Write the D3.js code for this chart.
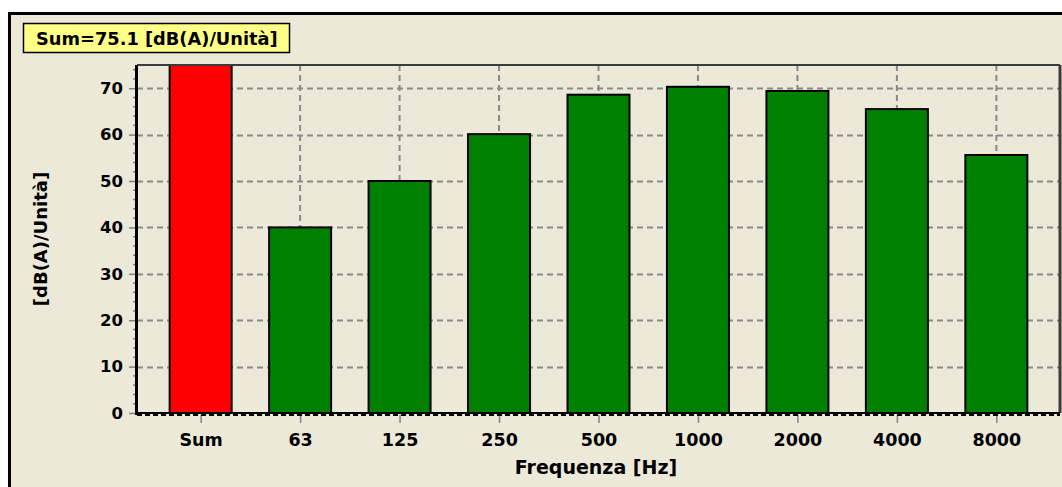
<!DOCTYPE html>
<html>
<head>
<meta charset="utf-8">
<script src="https://cdn.jsdelivr.net/npm/d3@7"></script>
<style>
  html, body { margin: 0; padding: 0; background: #ffffff; }
  svg { display: block; }
  text { font-family: "DejaVu Sans", Verdana, sans-serif; font-weight: bold; fill: #000; }
</style>
</head>
<body>
<svg id="chart" width="1062" height="487"></svg>
<script>
// ---- data ----
const categories = ["Sum", "63", "125", "250", "500", "1000", "2000", "4000", "8000"];
const values = [75.1, 40.0, 50.0, 60.1, 68.6, 70.3, 69.4, 65.5, 55.6];
const yTicks = [0, 10, 20, 30, 40, 50, 60, 70];
const titleText = "Sum=75.1 [dB(A)/Unità]";
const yLabel = "[dB(A)/Unità]";
const xLabel = "Frequenza [Hz]";

// ---- layout ----
const W = 1062, H = 487;
const plot = { left: 137, right: 1060, top: 65, bottom: 413 };
const FONT = "'DejaVu Sans', Verdana, sans-serif";
const svg = d3.select("#chart");

// outer panel
svg.append("rect").attr("x", 8).attr("y", 12).attr("width", W).attr("height", H)
  .attr("fill", "#ECE9D8");
svg.append("line").attr("x1", 8).attr("x2", W).attr("y1", 13.5).attr("y2", 13.5)
  .attr("stroke", "#000").attr("stroke-width", 3);
svg.append("line").attr("x1", 9.5).attr("x2", 9.5).attr("y1", 12).attr("y2", H)
  .attr("stroke", "#000").attr("stroke-width", 3);

// scales
const x = d3.scalePoint().domain(categories).range([plot.left, plot.right]).padding(0.64);
const y = d3.scaleLinear().domain([0, 75]).range([plot.bottom, plot.top]);
const barW = 62;

// clip
svg.append("clipPath").attr("id", "clip").append("rect")
  .attr("x", plot.left).attr("y", plot.top)
  .attr("width", plot.right - plot.left).attr("height", plot.bottom - plot.top);

const g = svg.append("g");

// gridlines
g.selectAll(".hgrid").data(yTicks.filter(d => d > 0)).join("line")
  .attr("x1", plot.left).attr("x2", plot.right)
  .attr("y1", d => Math.round(y(d)) + 0.5).attr("y2", d => Math.round(y(d)) + 0.5)
  .attr("stroke", "#8a8a8a").attr("stroke-width", 2).attr("stroke-dasharray", "6,4");
g.selectAll(".vgrid").data(categories).join("line")
  .attr("x1", d => x(d)).attr("x2", d => x(d))
  .attr("y1", plot.top).attr("y2", plot.bottom)
  .attr("stroke", "#8a8a8a").attr("stroke-width", 2).attr("stroke-dasharray", "6,4");

// bars
g.append("g").attr("clip-path", "url(#clip)")
  .selectAll("rect").data(categories.map((c, i) => ({ c, v: values[i] }))).join("rect")
  .attr("x", d => x(d.c) - barW / 2)
  .attr("y", d => y(d.v))
  .attr("width", barW)
  .attr("height", d => y(0) - y(d.v))
  .attr("fill", d => d.c === "Sum" ? "#FF0000" : "#008000")
  .attr("stroke", "#000").attr("stroke-width", 2);

// plot frame: top & right dark gray
g.append("line").attr("x1", plot.left).attr("x2", plot.right).attr("y1", plot.top).attr("y2", plot.top)
  .attr("stroke", "#3c3c3c").attr("stroke-width", 2);
g.append("line").attr("x1", plot.right).attr("x2", plot.right).attr("y1", plot.top).attr("y2", plot.bottom)
  .attr("stroke", "#3c3c3c").attr("stroke-width", 3);

// y axis
const yAxis = d3.axisLeft(y).tickValues(yTicks).tickSize(8).tickPadding(6);
const ya = svg.append("g").attr("transform", `translate(${plot.left},0)`).call(yAxis);
ya.select(".domain").remove();
ya.selectAll(".tick line").attr("stroke", "#808080").attr("stroke-width", 1.5);
ya.selectAll(".tick text").attr("font-size", 16.5).style("font-family", FONT).style("font-weight", "bold");
// minor ticks
const minor = d3.range(0, 76, 2).filter(v => v % 10 !== 0);
svg.append("g").selectAll("line").data(minor).join("line")
  .attr("x1", plot.left - 4).attr("x2", plot.left)
  .attr("y1", d => y(d)).attr("y2", d => y(d))
  .attr("stroke", "#808080").attr("stroke-width", 1.5);
svg.append("line").attr("x1", plot.left - 0.5).attr("x2", plot.left - 0.5)
  .attr("y1", plot.top).attr("y2", plot.bottom + 2)
  .attr("stroke", "#000").attr("stroke-width", 3);

// x axis
const xAxis = d3.axisBottom(x).tickSize(8).tickPadding(11);
const xa = svg.append("g").attr("transform", `translate(0,${plot.bottom + 2})`).call(xAxis);
xa.select(".domain").remove();
xa.selectAll(".tick line").attr("stroke", "#808080").attr("stroke-width", 1.5);
xa.selectAll(".tick text").attr("font-size", 17.5).style("font-family", FONT).style("font-weight", "bold");
svg.append("line").attr("x1", plot.left).attr("x2", plot.right).attr("y1", plot.bottom).attr("y2", plot.bottom)
  .attr("stroke", "#000").attr("stroke-width", 2);
svg.append("line").attr("x1", plot.left).attr("x2", plot.right).attr("y1", plot.bottom + 2).attr("y2", plot.bottom + 2)
  .attr("stroke", "#000").attr("stroke-width", 2).attr("stroke-dasharray", "5,3");

// axis titles
svg.append("text").attr("x", 596).attr("y", 474)
  .attr("text-anchor", "middle").attr("font-size", 19).text(xLabel);
svg.append("text").attr("transform", `translate(47,${(plot.top + plot.bottom) / 2}) rotate(-90)`)
  .attr("text-anchor", "middle").attr("font-size", 18).text(yLabel);

// title box
svg.append("rect").attr("x", 23.5).attr("y", 23.5).attr("width", 266).attr("height", 29)
  .attr("fill", "#FFFF88").attr("stroke", "#000").attr("stroke-width", 1.5);
svg.append("text").attr("x", 36).attr("y", 45).attr("font-size", 17.8).text(titleText);
</script>
</body>
</html>
